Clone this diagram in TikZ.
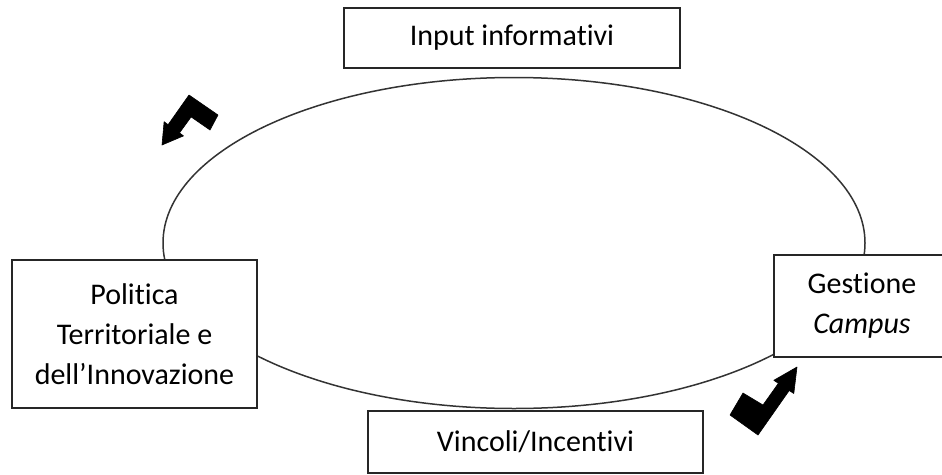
\documentclass[tikz,border=0pt]{standalone}
\usepackage{fontspec}
\setmainfont{Carlito}[Ligatures=NoCommon]
\usetikzlibrary{shapes.geometric}
\begin{document}
\begin{tikzpicture}[x=1pt,y=-1pt,
  box/.style={draw=black!85,line width=1.8pt,fill=white,rectangle,inner sep=0pt,
    align=center,font=\fontsize{30}{40}\selectfont},
  cyc/.style={draw=black!80,line width=1.5pt,ellipse,inner sep=0pt},
  bent/.style={fill=black,draw=black,line width=0.6pt,line join=round}]
\useasboundingbox (0,0) rectangle (942,474);
\clip (0,0) rectangle (942,474);
\fill[white] (0,0) rectangle (942,474);
\node[cyc,minimum width=702pt,minimum height=331pt] (loop) at (514,243) {};
\node[box,minimum width=336pt,minimum height=60pt] (input) at (512,38) {Input informativi};
\node[box,minimum width=335pt,minimum height=62pt] (vincoli) at (535.5,442) {Vincoli/Incentivi};
\node[box,minimum width=245pt,minimum height=148pt] (politica) at (134.5,334)
  {Politica\\Territoriale e\\dell’Innovazione};
\node[box,minimum width=176pt,minimum height=102pt] (gestione) at (862,306)
  {Gestione\\\textit{Campus}};
% bent arrows
\fill[bent] (189,95) -- (218,115) -- (210,130) -- (191.1,116.9) -- (179.5,132.9)
  -- (183.5,135.9) -- (162,145) -- (164.1,121.7) -- (168.1,124.7) -- cycle;
\fill[bent] (743,393) -- (763,405) -- (778.4,383.3) -- (773.8,380.3) -- (797,367)
  -- (793.8,393.5) -- (789.2,390.5) -- (758,435) -- (730,415) -- cycle;
\end{tikzpicture}
\end{document}
